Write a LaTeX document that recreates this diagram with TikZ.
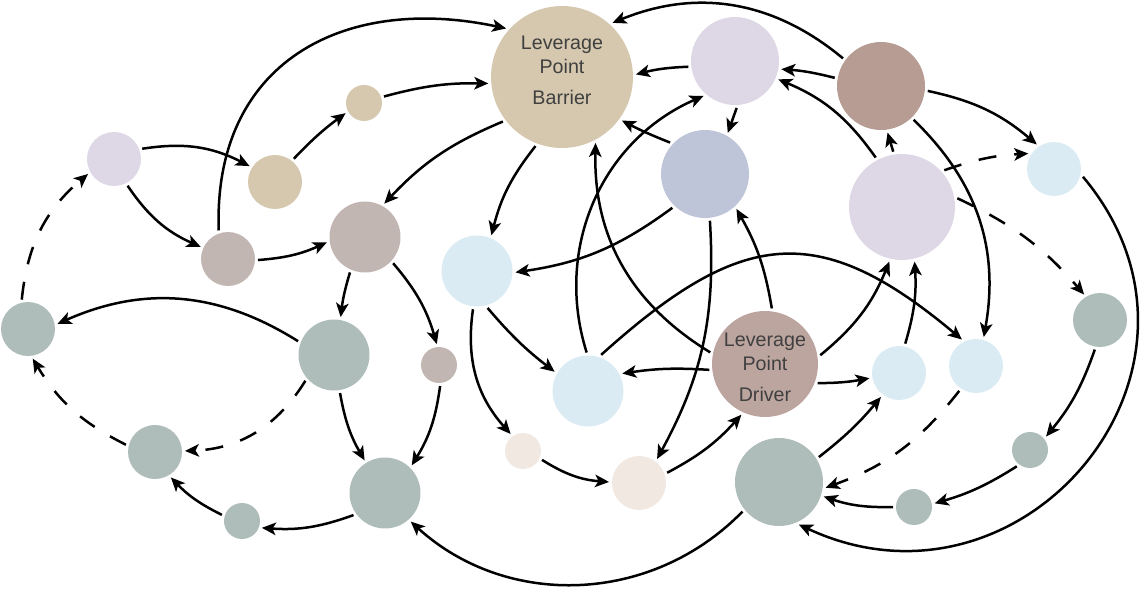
\documentclass[tikz,border=0pt]{standalone}
\usepackage{fontspec}
\setmainfont{Liberation Sans}
\usetikzlibrary{arrows.meta}
\definecolor{tanc}{HTML}{D5C8AE}
\definecolor{lavc}{HTML}{DDD7E6}
\definecolor{rosec}{HTML}{B79C94}
\definecolor{slatec}{HTML}{BEC5D8}
\definecolor{bluec}{HTML}{DBEBF3}
\definecolor{taupec}{HTML}{C2B6B2}
\definecolor{greyc}{HTML}{AEBCBA}
\definecolor{peachc}{HTML}{F0E8E1}
\definecolor{driverc}{HTML}{BCA59F}
\tikzset{
  spot/.style={circle,inner sep=0pt,outer sep=.06cm},
  link/.style={line width=.05cm,-{Stealth[length=.28cm,width=.25cm,inset=.07cm]}},
  linkdash/.style={link,dash pattern=on .36cm off .36cm},
  lptext/.style={align=center,text=black!75,font=\fontsize{11.2}{13.6}\selectfont}
}

\begin{document}
\begin{tikzpicture}[x=.02cm,y=-.02cm]
\useasboundingbox (0,0) rectangle (1140,591);

\node[spot,fill=tanc,minimum size=2.84cm] (barrier) at (562,77) {};
\node[spot,fill=lavc,minimum size=1.76cm] (lavtop) at (735,61) {};
\node[spot,fill=rosec,minimum size=1.76cm] (rosetop) at (881,86) {};
\node[spot,fill=slatec,minimum size=1.76cm] (slate) at (705,174) {};
\node[spot,fill=lavc,minimum size=2.12cm] (lavbig) at (902,207) {};
\node[spot,fill=bluec,minimum size=1.08cm] (bluetr) at (1054,169) {};
\node[spot,fill=bluec,minimum size=1.42cm] (bluemid) at (477,271) {};
\node[spot,fill=taupec,minimum size=1.42cm] (taupemid) at (365,237) {};
\node[spot,fill=tanc,minimum size=.72cm] (tansm) at (364,103) {};
\node[spot,fill=tanc,minimum size=1.08cm] (tanmid) at (275,182) {};
\node[spot,fill=lavc,minimum size=1.08cm] (lavleft) at (114,159) {};
\node[spot,fill=taupec,minimum size=1.08cm] (taupeleft) at (228,259) {};
\node[spot,fill=greyc,minimum size=1.42cm] (greymid) at (334,355) {};
\node[spot,fill=greyc,minimum size=1.08cm] (greyfl) at (28,329) {};
\node[spot,fill=greyc,minimum size=1.08cm] (greyll) at (155,452) {};
\node[spot,fill=greyc,minimum size=.72cm] (greysm) at (242,521) {};
\node[spot,fill=greyc,minimum size=1.42cm] (greylow) at (385,493) {};
\node[spot,fill=taupec,minimum size=.72cm] (taupesm) at (439,365) {};
\node[spot,fill=peachc,minimum size=.72cm] (peachsm) at (523,451) {};
\node[spot,fill=peachc,minimum size=1.08cm] (peach) at (639,483) {};
\node[spot,fill=bluec,minimum size=1.42cm] (bluelow) at (588,391) {};
\node[spot,fill=driverc,minimum size=2.12cm] (driver) at (765,364) {};
\node[spot,fill=bluec,minimum size=1.08cm] (bluerone) at (899,373) {};
\node[spot,fill=bluec,minimum size=1.08cm] (bluertwo) at (976,366) {};
\node[spot,fill=greyc,minimum size=1.08cm] (greyr) at (1100,320) {};
\node[spot,fill=greyc,minimum size=.72cm] (greyrtwo) at (1030,450) {};
\node[spot,fill=greyc,minimum size=.72cm] (greyrthree) at (914,507) {};
\node[spot,fill=greyc,minimum size=1.76cm] (greybig) at (779,482) {};

\node[lptext] (barriertext) at (562,70) {Leverage\\Point\\[.14cm]Barrier};
\node[lptext] (drivertext) at (765,367) {Leverage\\Point\\[.14cm]Driver};

% left part
\draw[link] (lavleft.20) to[bend left=18] (tanmid.148);
\draw[link] (lavleft.-63) to[bend right=16] (taupeleft.156);
\draw[link] (taupeleft.108) to[out=92,in=168,looseness=1.22] (barrier.139);
\draw[link] (tanmid.51) to[bend left=5] (tansm.209);
\draw[link] (tansm.18) to[bend left=8] (barrier.185);
\draw[link] (barrier.217) to[bend right=12] (taupemid.60);
\draw[link] (barrier.249) to[bend right=12] (bluemid.68);
\draw[link] (taupeleft.-2) to[bend right=10] (taupemid.188);
\draw[link] (taupemid.247) to[bend right=5] (greymid.80);
\draw[link] (taupemid.-43) to[bend left=12] (taupesm.96);
\draw[link] (greymid.159) to[bend right=28] (greyfl.10);
\draw[linkdash] (greymid.222) to[bend left=28] (greyll.2);
\draw[linkdash] (greyll.166) to[bend left=16] (greyfl.279);
\draw[linkdash] (greyfl.102) to[bend left=22] (lavleft.210);
\draw[link] (greymid.279) to[bend right=10] (greylow.122);
\draw[link] (taupesm.273) to[bend left=12] (greylow.46);
\draw[link] (greylow.215) to[bend left=12] (greysm.341);
\draw[link] (greysm.163) to[bend left=10] (greyll.302);
\draw[link] (greybig.219) to[bend left=44] (greylow.312);

% middle part
\draw[link] (bluemid.286) to[bend right=6] (bluelow.150);
\draw[link] (bluemid.264) to[bend right=25] (peachsm.126);
\draw[link] (peachsm.335) to[bend right=14] (peach.178);
\draw[link] (peach.20) to[bend right=10] (driver.245);
\draw[link] (driver.186) to[bend right=6] (bluelow.27);
\draw[link] (bluelow.92) to[bend left=42] (lavtop.228);
\draw[link] (bluelow.70) to[out=42,in=140,looseness=1.33] (bluertwo.118);
\draw[link] (driver.168) to[bend left=30] (barrier.297);
\draw[link] (driver.83) to[bend right=10] (slate.312);
\draw[link] (slate.226) to[bend left=14] (bluemid.358);
\draw[link] (slate.138) to[bend left=3] (barrier.324);
\draw[link] (slate.276) to[bend left=16] (peach.53);
\draw[link] (lavtop.187) to[bend right=6] (barrier.2);
\draw[link] (lavtop.272) -- (slate.61);

% right part
\draw[link] (rosetop.170) to[bend right=5] (lavtop.350);
\draw[link] (rosetop.144) to[bend right=31] (barrier.47);
\draw[link] (lavbig.118) to[bend right=16] (lavtop.337);
\draw[link] (lavbig.99) -- (rosetop.278);
\draw[linkdash] (lavbig.41) to[bend left=8] (bluetr.149);
\draw[linkdash] (lavbig.9) to[bend left=12] (greyr.122);
\draw[link] (rosetop.354) to[bend left=14] (bluetr.125);
\draw[link] (rosetop.314) to[bend left=28] (bluertwo.75);
\draw[link] (driver.9) to[bend right=14] (lavbig.257);
\draw[link] (bluerone.78) to[bend right=10] (lavbig.283);
\draw[link] (driver.340) to[bend right=5] (bluerone.190);
\draw[link] (greybig.32) to[bend right=6] (bluerone.233);
\draw[linkdash] (bluertwo.236) to[bend left=16] (greybig.353);
\draw[link] (greyrthree.180) to[bend left=10] (greybig.342);
\draw[link] (greyrtwo.231) to[bend left=8] (greyrthree.10);
\draw[link] (greyr.260) to[bend left=10] (greyrtwo.40);
\draw[link] (bluetr.-15) to[out=-50,in=-25,looseness=1.42] (greybig.295);
\end{tikzpicture}
\end{document}
